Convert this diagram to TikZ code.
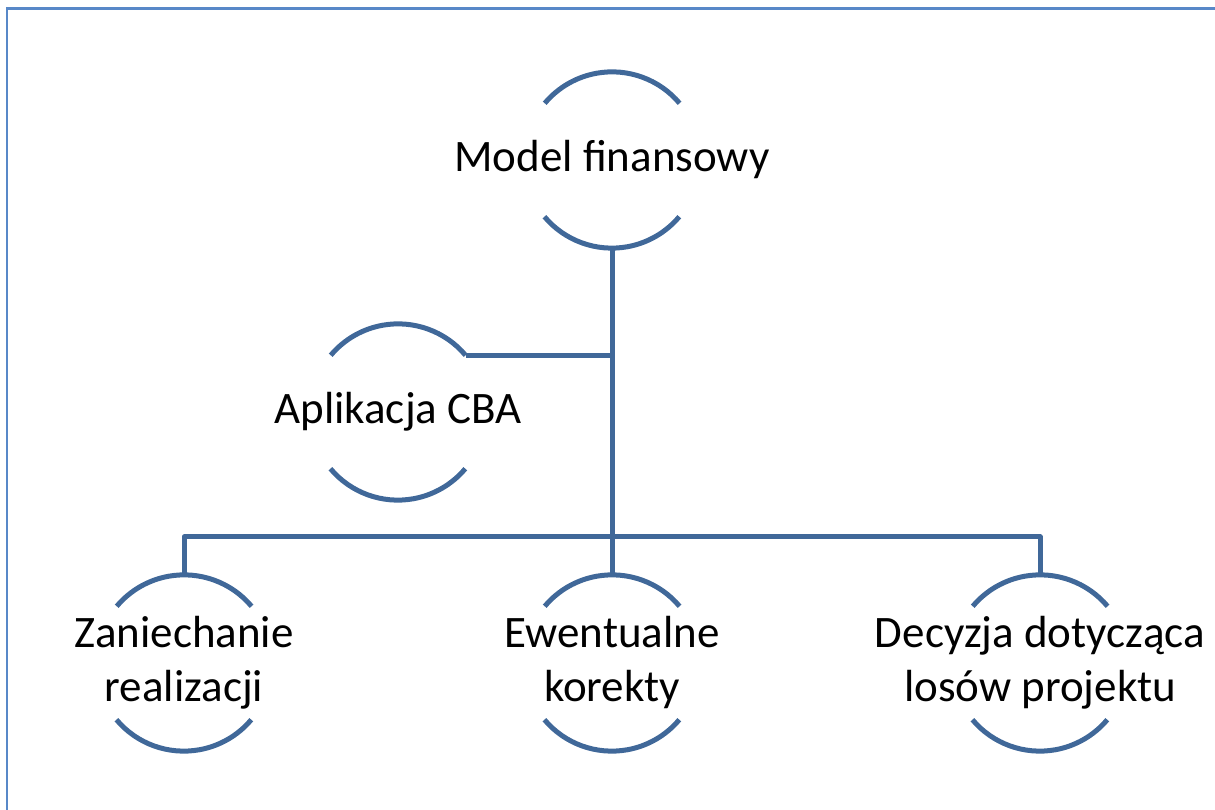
\documentclass[tikz,border=0pt]{standalone}
\usepackage{fontspec}
\setmainfont{Carlito}
\definecolor{linkblue}{RGB}{64,104,153}
\definecolor{frameblue}{RGB}{88,136,200}
\tikzset{
  ring/.style={circle, minimum size=176pt, inner sep=0pt},
  label text/.style={align=center, inner sep=0pt, font=\fontsize{45}{54}\selectfont},
  arcline/.style={draw=linkblue, line width=5pt},
  link/.style={draw=linkblue, line width=5pt, line join=round},
  frame/.style={draw=frameblue, line width=2.5pt}
}
% two open arcs above and below a ring node
\newcommand{\ringarcs}[1]{%
  \draw[arcline] (#1.40) arc[start angle=40, end angle=140, radius=88pt];
  \draw[arcline] (#1.220) arc[start angle=220, end angle=320, radius=88pt];
}
\begin{document}
\begin{tikzpicture}[x=1pt, y=1pt]
  \useasboundingbox (0,0) rectangle (1215,810);
  % outer frame, running past the right and lower edges
  \draw[frame] (1240,801.5) -- (7,801.5) -- (7,-20);

  % rings
  \node[ring] (m) at (612,650) {};
  \node[ring] (cba) at (398,398) {};
  \node[ring] (z) at (184,147) {};
  \node[ring] (e) at (612,147) {};
  \node[ring] (d) at (1040,147) {};
  \ringarcs{m}
  \ringarcs{cba}
  \ringarcs{z}
  \ringarcs{e}
  \ringarcs{d}

  % texts
  \node[label text] (mt) at (m) {Model finansowy};
  \node[label text] (cbat) at (cba) {Aplikacja CBA};
  \node[label text] (zt) at (z) {Zaniechanie\\realizacji};
  \node[label text] (et) at (e) {Ewentualne\\korekty};
  \node[label text] (dt) at (d) {Decyzja dotycząca\\losów projektu};

  % connectors
  \coordinate (bus) at (612,273);
  \draw[link] (m.south) -- (e.north);
  \draw[link] (cba.40) -- (cba.40 -| m.south);
  \draw[link] (z.north) |- (bus) -| (d.north);
\end{tikzpicture}
\end{document}
